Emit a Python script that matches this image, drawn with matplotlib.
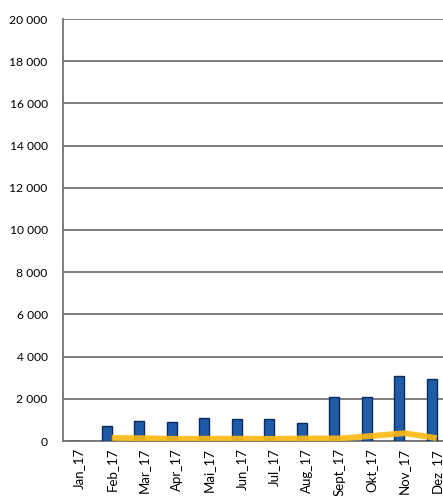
import numpy as np
import matplotlib.pyplot as plt
from matplotlib.ticker import FuncFormatter

plt.rcParams["font.family"] = ["Lato", "DejaVu Sans"]

months = ["Jan_17", "Feb_17", "Mar_17", "Apr_17", "Mai_17", "Jun_17",
          "Jul_17", "Aug_17", "Sept_17", "Okt_17", "Nov_17", "Dez_17"]
bar_values = [0, 730, 940, 890, 1110, 1060, 1020, 860, 2100, 2100, 3060, 2940]
line_values = [np.nan, 150, 130, 100, 110, 110, 100, 120, 120, 240, 370, 140]

fig = plt.figure(figsize=(4.43, 4.96), dpi=100)
ax = fig.add_axes([63 / 443, 55 / 496, 390 / 443, 422 / 496])

x = np.arange(len(months))
ax.bar(x - 0.16, bar_values, width=0.31, color="#1f5ba8", edgecolor="#0d2a58",
       linewidth=1.0, zorder=3)
ax.plot(x, line_values, color="#ffb90f", linewidth=4.2, alpha=0.9,
        solid_capstyle="butt", zorder=4)

ax.set_xlim(-0.5, 11.5)
ax.set_ylim(0, 20000)
ax.set_yticks(range(0, 20001, 2000))
ax.yaxis.set_major_formatter(FuncFormatter(lambda v, p: f"{int(v):,}".replace(",", " ")))
ax.set_xticks(x)
ax.set_xticklabels(months, rotation=90, fontsize=9.5)
ax.tick_params(axis="y", labelsize=8.7, length=0, pad=11)
ax.tick_params(axis="x", length=0, pad=5)
ax.grid(axis="y", color="#747474", linewidth=1.3, zorder=0)

for side in ["top", "right"]:
    ax.spines[side].set_visible(False)
ax.spines["left"].set_color("#747474")
ax.spines["left"].set_linewidth(1.3)
ax.spines["bottom"].set_color("#747474")
ax.spines["bottom"].set_linewidth(1.3)

fig.savefig("out.png", dpi=100)
